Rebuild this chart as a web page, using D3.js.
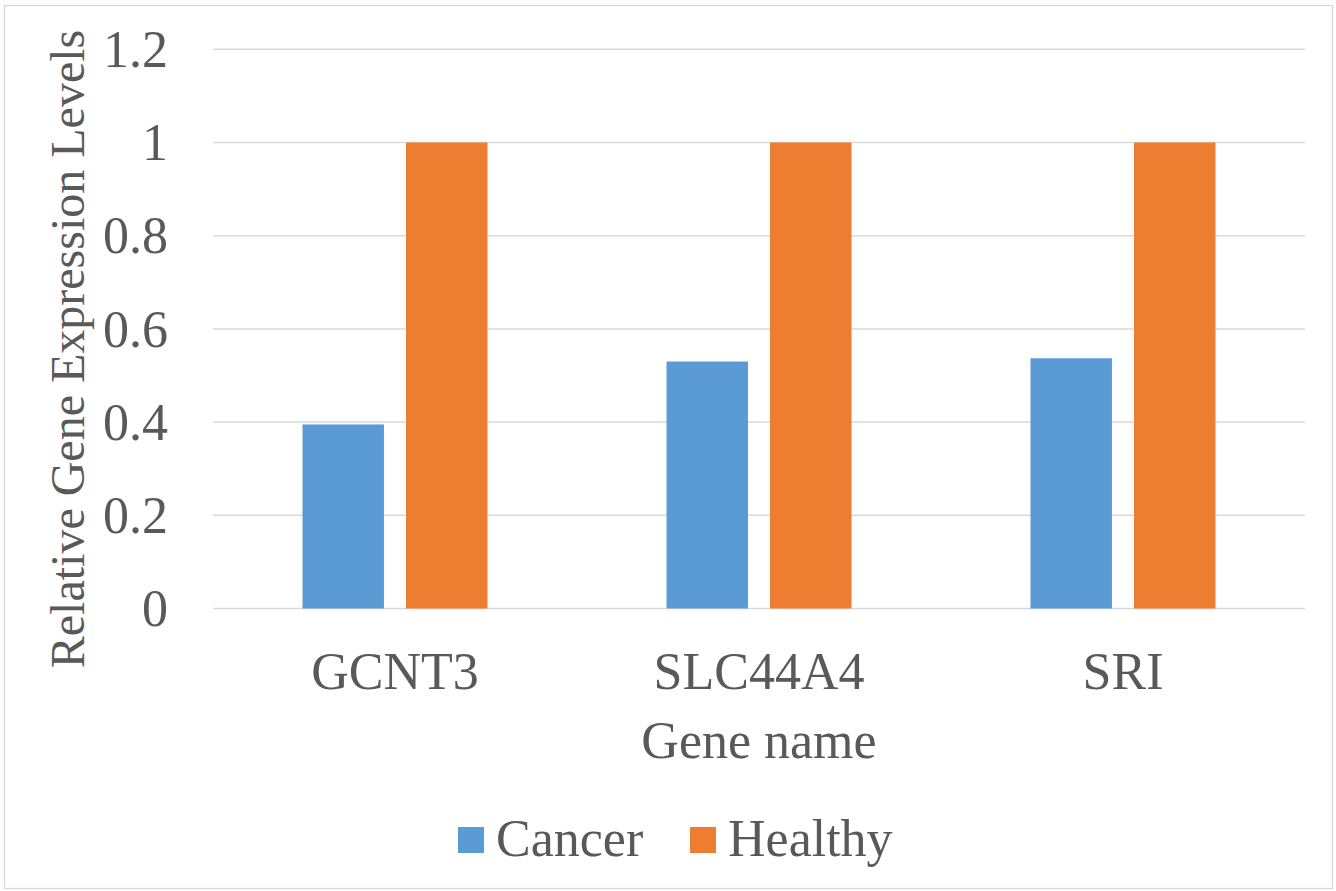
<!DOCTYPE html>
<html>
<head>
<meta charset="utf-8">
<script src="https://cdn.jsdelivr.net/npm/d3@7"></script>
<style>
  html, body { margin: 0; padding: 0; background: #fff; }
  svg { display: block; }
  text { font-family: "Liberation Serif", "Times New Roman", serif; fill: #595959; }
</style>
</head>
<body>
<svg id="chart" width="1336" height="891"></svg>
<script>
const categories = ["GCNT3", "SLC44A4", "SRI"];
const seriesNames = ["Cancer", "Healthy"];
const cancerValues = [0.395, 0.530, 0.537];
const healthyValues = [1, 1, 1];
const yTicks = [0, 0.2, 0.4, 0.6, 0.8, 1, 1.2];
const yTickLabels = ["0", "0.2", "0.4", "0.6", "0.8", "1", "1.2"];
const colors = ["#5b9bd5", "#ed7d31"];
const xTitle = "Gene name";
const yTitle = "Relative Gene Expression Levels";

const svg = d3.select("#chart");
const W = 1336, H = 891;
const plot = { left: 213, right: 1305, top: 49.3, bottom: 608.5 };

// outer border
svg.append("rect")
  .attr("x", 4.5).attr("y", 5.5).attr("width", W - 8).attr("height", H - 8)
  .attr("fill", "#fff").attr("stroke", "#d9d9d9").attr("stroke-width", 1.3);

const y = d3.scaleLinear().domain([0, 1.2]).range([plot.bottom, plot.top]);
const x0 = d3.scaleBand().domain(categories).range([plot.left, plot.right])
  .paddingInner(0.4918).paddingOuter(0.2459);
const x1 = d3.scaleBand().domain(seriesNames).range([0, x0.bandwidth()])
  .paddingInner(0.213);

// gridlines
svg.append("g").selectAll("line").data(yTicks).join("line")
  .attr("x1", plot.left).attr("x2", plot.right)
  .attr("y1", d => y(d)).attr("y2", d => y(d))
  .attr("stroke", "#d9d9d9").attr("stroke-width", 1.5);

// y tick labels
svg.append("g").selectAll("text").data(yTicks).join("text")
  .attr("x", 168).attr("y", d => y(d))
  .attr("dy", "0.34em")
  .attr("text-anchor", "end")
  .attr("font-size", 52)
  .text((d, i) => yTickLabels[i]);

// bars
const seriesData = [cancerValues, healthyValues];
const groups = svg.append("g").selectAll("g").data(categories).join("g")
  .attr("transform", d => `translate(${x0(d)},0)`);
groups.selectAll("rect").data((c, ci) => seriesNames.map((s, si) => ({ s, si, v: seriesData[si][ci] })))
  .join("rect")
  .attr("x", d => x1(d.s))
  .attr("width", x1.bandwidth())
  .attr("y", d => y(d.v))
  .attr("height", d => y(0) - y(d.v))
  .attr("fill", d => colors[d.si]);

// category labels
svg.append("g").selectAll("text").data(categories).join("text")
  .attr("x", d => x0(d) + x0.bandwidth() / 2)
  .attr("y", 689)
  .attr("text-anchor", "middle")
  .attr("font-size", 52)
  .text(d => d);

// x title
svg.append("text")
  .attr("x", (plot.left + plot.right) / 2).attr("y", 758)
  .attr("text-anchor", "middle").attr("font-size", 52)
  .text(xTitle);

// y title
svg.append("text")
  .attr("transform", `translate(84, 349) rotate(-90)`)
  .attr("text-anchor", "middle").attr("font-size", 48)
  .text(yTitle);

// legend
const legendItems = [
  { name: seriesNames[0], color: colors[0], sx: 458, tx: 496 },
  { name: seriesNames[1], color: colors[1], sx: 690, tx: 728 }
];
const lg = svg.append("g");
legendItems.forEach(it => {
  lg.append("rect").attr("x", it.sx).attr("y", 827).attr("width", 26).attr("height", 26).attr("fill", it.color);
  lg.append("text").attr("x", it.tx).attr("y", 856).attr("font-size", 52).text(it.name);
});
</script>
</body>
</html>
